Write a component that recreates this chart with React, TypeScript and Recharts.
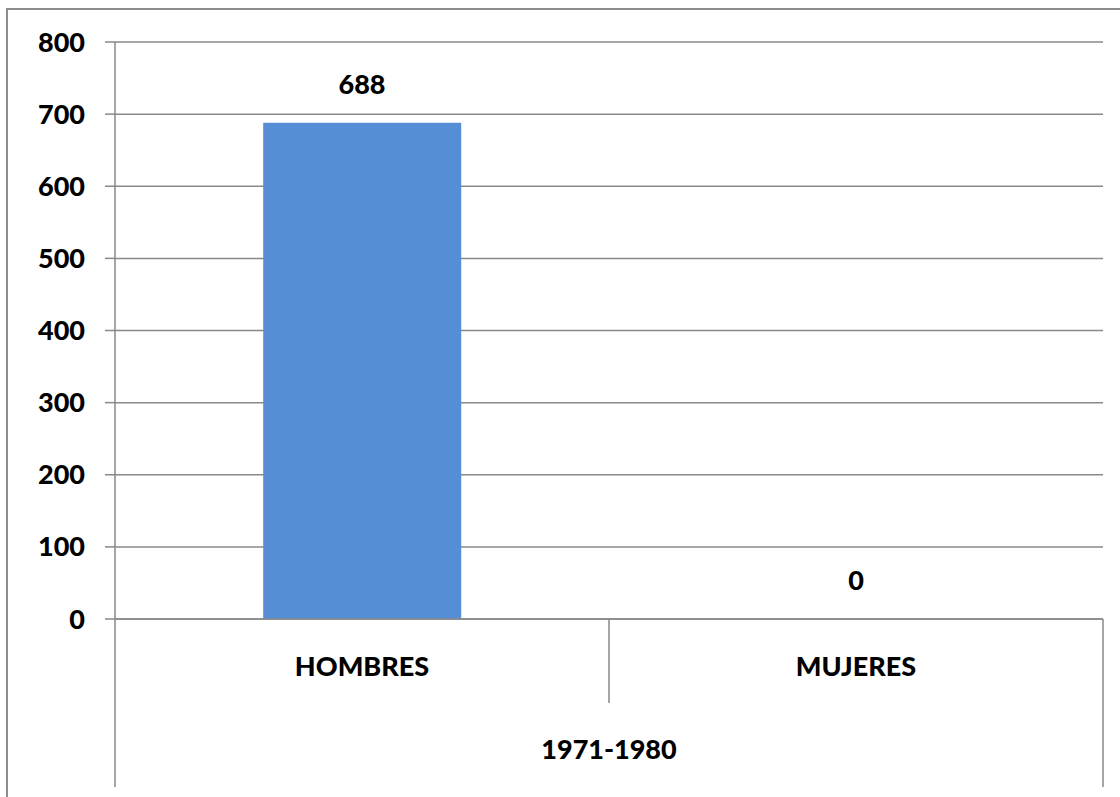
import React from 'react';
import { Bar, CartesianGrid, ComposedChart, Line, XAxis, YAxis } from 'recharts';

const categories = ['HOMBRES', 'MUJERES'];
const values = [688, 0];
const groupLabel = '1971-1980';
const yTicks = [0, 100, 200, 300, 400, 500, 600, 700, 800];

const data = categories.map((name, i) => ({ name, value: values[i] }));

const W = 1120;
const H = 797;
const M = { top: 42, right: 17, bottom: 0, left: 0 };
const X_H = 178;
const Y_W = 115;
const GRID = '#898989';
const FONT = 'Lato, "Open Sans", sans-serif';

const plotW = W - M.left - M.right - Y_W;
const band = plotW / categories.length;

function CatTick({ x, y, payload, index }: any) {
  const left = x - band / 2;
  const right = x + band / 2;
  const last = index === categories.length - 1;
  return (
    <g>
      {index === 0 && <line x1={left} y1={y} x2={left} y2={y + 168} stroke={GRID} strokeWidth={1.5} />}
      <line
        x1={right}
        y1={y}
        x2={right}
        y2={last ? y + 168 : y + 84}
        stroke={GRID}
        strokeWidth={1.5}
      />
      <text x={x} y={y + 50} textAnchor="middle" dominantBaseline="middle" fontFamily={FONT} fontWeight={900} fontSize={27} fill="#000">
        {payload.value}
      </text>
      {index === 0 && (
        <text x={right} y={y + 133} textAnchor="middle" dominantBaseline="middle" fontFamily={FONT} fontWeight={900} fontSize={27} fill="#000">
          {groupLabel}
        </text>
      )}
    </g>
  );
}

// labels drawn through an invisible line so the zero bar still gets its "0"
function ValueLabel({ x, y, value }: any) {
  if (x == null || y == null) return null;
  return (
    <text x={x} y={y - 36} textAnchor="middle" dominantBaseline="middle" fontFamily={FONT} fontWeight={900} fontSize={27} fill="#000">
      {value}
    </text>
  );
}

export default function App() {
  return (
    <div style={{ position: 'absolute', left: 0, top: 0, width: W, height: H, background: '#fff', overflow: 'hidden' }}>
      <div
        style={{
          position: 'absolute',
          left: 6,
          top: 8,
          width: W + 20,
          height: H + 20,
          border: '2px solid #8c8c8c',
        }}
      />
      <div style={{ position: 'absolute', left: 0, top: 0 }}>
        <ComposedChart width={W} height={H} data={data} margin={M} barCategoryGap="30%">
          <CartesianGrid vertical={false} stroke={GRID} strokeWidth={1.5} />
          <XAxis
            dataKey="name"
            axisLine={{ stroke: GRID, strokeWidth: 1.5 }}
            tickLine={false}
            tickSize={0}
            tickMargin={0}
            tick={<CatTick />}
            interval={0}
            height={X_H}
          />
          <YAxis
            width={Y_W}
            domain={[0, 800]}
            ticks={yTicks}
            axisLine={{ stroke: GRID, strokeWidth: 1.5 }}
            tickLine={{ stroke: GRID, strokeWidth: 1.5 }}
            tickSize={10}
            tickMargin={20}
            tick={{ fontFamily: FONT, fontWeight: 900, fontSize: 27, fill: '#000' }}
          />
          <Bar dataKey="value" fill="#558ED5" isAnimationActive={false} />
          <Line
            dataKey="value"
            stroke="none"
            dot={false}
            activeDot={false}
            label={<ValueLabel />}
            isAnimationActive={false}
          />
        </ComposedChart>
      </div>
    </div>
  );
}
